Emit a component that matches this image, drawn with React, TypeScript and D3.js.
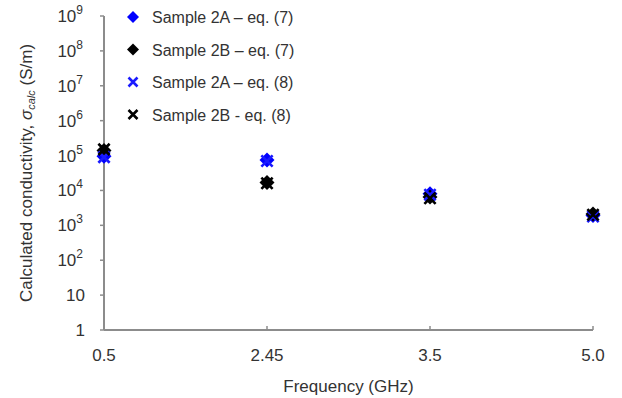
import React, { useEffect, useRef } from 'react';
import * as d3 from 'd3';

// frequencies (GHz) as categories
const frequencies = ['0.5', '2.45', '3.5', '5.0'];

// calculated conductivity (S/m)
const sample2AEq7 = [95000, 75000, 8000, 1900];
const sample2BEq7 = [140000, 17000, 6500, 2100];
const sample2AEq8 = [90000, 70000, 7500, 1800];
const sample2BEq8 = [150000, 16000, 6000, 2000];

const yTickExponents = [0, 1, 2, 3, 4, 5, 6, 7, 8, 9];

const seriesList = [
    { name: 'Sample 2A \u2013 eq. (7)', values: sample2AEq7, color: '#0000ff', shape: 'diamond' },
    { name: 'Sample 2B \u2013 eq. (7)', values: sample2BEq7, color: '#000000', shape: 'diamond' },
    { name: 'Sample 2A \u2013 eq. (8)', values: sample2AEq8, color: '#1a1aff', shape: 'cross' },
    { name: 'Sample 2B - eq. (8)', values: sample2BEq8, color: '#000000', shape: 'cross' },
];

const App = () => {
    const svgRef = useRef<SVGSVGElement | null>(null);

    useEffect(() => {
        const width = 622;
        const height = 398;
        const margin = { top: 16, right: 29, bottom: 68, left: 104 };
        const innerWidth = width - margin.left - margin.right;
        const innerHeight = height - margin.top - margin.bottom;
        const axisColor = '#8c8c8c';
        const textColor = '#333';
        const font = '"Liberation Sans", Arial, sans-serif';

        const svg = d3.select(svgRef.current);
        svg.selectAll('*').remove();
        svg.attr('width', width).attr('height', height)
            .style('font-family', font);

        svg.append('rect').attr('width', width).attr('height', height).attr('fill', '#fff');

        const g = svg.append('g').attr('transform', `translate(${margin.left},${margin.top})`);

        const x = d3.scalePoint().domain(frequencies).range([0, innerWidth]);
        const y = d3.scaleLog().domain([1, 1e9]).range([innerHeight, 0]);

        // y axis
        g.append('line')
            .attr('x1', 0).attr('x2', 0).attr('y1', 0).attr('y2', innerHeight)
            .attr('stroke', axisColor).attr('stroke-width', 2);
        yTickExponents.forEach(e => {
            const yy = y(Math.pow(10, e));
            g.append('line')
                .attr('x1', -4).attr('x2', 0).attr('y1', yy).attr('y2', yy)
                .attr('stroke', axisColor).attr('stroke-width', 1.5);
            const t = g.append('text')
                .attr('x', -21).attr('y', yy + 6)
                .attr('text-anchor', 'end')
                .attr('fill', textColor)
                .style('font-size', '17px');
            if (e === 0) {
                t.text('1').attr('x', -19);
            } else if (e === 1) {
                t.text('10').attr('x', -19);
            } else {
                t.append('tspan').text('10');
                t.append('tspan').attr('dy', -8).style('font-size', '12px').text(String(e));
            }
        });

        // x axis
        g.append('line')
            .attr('x1', 0).attr('x2', innerWidth).attr('y1', innerHeight).attr('y2', innerHeight)
            .attr('stroke', axisColor).attr('stroke-width', 2);
        frequencies.forEach(f => {
            const xx = x(f) as number;
            g.append('line')
                .attr('x1', xx).attr('x2', xx).attr('y1', innerHeight).attr('y2', innerHeight - 4)
                .attr('stroke', axisColor).attr('stroke-width', 1.5);
            g.append('text')
                .attr('x', xx).attr('y', innerHeight + 31)
                .attr('text-anchor', 'middle')
                .attr('fill', textColor)
                .style('font-size', '17px')
                .text(f);
        });

        // axis titles
        g.append('text')
            .attr('x', innerWidth / 2).attr('y', innerHeight + 62)
            .attr('text-anchor', 'middle')
            .attr('fill', textColor)
            .style('font-size', '17px')
            .text('Frequency (GHz)');

        const yTitle = g.append('text')
            .attr('transform', `translate(${-72},${innerHeight / 2}) rotate(-90)`)
            .attr('text-anchor', 'middle')
            .attr('fill', textColor)
            .style('font-size', '17px');
        yTitle.append('tspan').text('Calculated conductivity, ');
        yTitle.append('tspan').style('font-style', 'italic').text('\u03c3');
        yTitle.append('tspan').attr('dy', 3).style('font-style', 'italic').style('font-size', '11px').text('calc');
        yTitle.append('tspan').attr('dy', -3).text(' (S/m)');

        const drawMarker = (sel, shape, color, s) => {
            if (shape === 'diamond') {
                sel.append('path')
                    .attr('d', `M0,${-s}L${s},0L0,${s}L${-s},0Z`)
                    .attr('fill', color);
            } else {
                const c = s * 0.75;
                sel.append('path')
                    .attr('d', `M${-c},${-c}L${c},${c}M${-c},${c}L${c},${-c}`)
                    .attr('stroke', color).attr('stroke-width', 2.6).attr('fill', 'none');
            }
        };

        // data points
        seriesList.forEach(s => {
            s.values.forEach((v, i) => {
                const pt = g.append('g')
                    .attr('transform', `translate(${x(frequencies[i])},${y(v)})`);
                drawMarker(pt, s.shape, s.color, 7.5);
            });
        });

        // legend
        const legend = svg.append('g').attr('transform', 'translate(133,17)');
        seriesList.forEach((s, i) => {
            const row = legend.append('g').attr('transform', `translate(0,${i * 32.5})`);
            drawMarker(row, s.shape, s.color, 6);
            row.append('text')
                .attr('x', 19).attr('y', 6)
                .attr('fill', textColor)
                .style('font-size', '16px')
                .text(s.name);
        });
    }, []);

    return (
        <div>
            <svg ref={svgRef} style={{ position: 'absolute', left: 0, top: 0 }}></svg>
        </div>
    );
};

export default App;
